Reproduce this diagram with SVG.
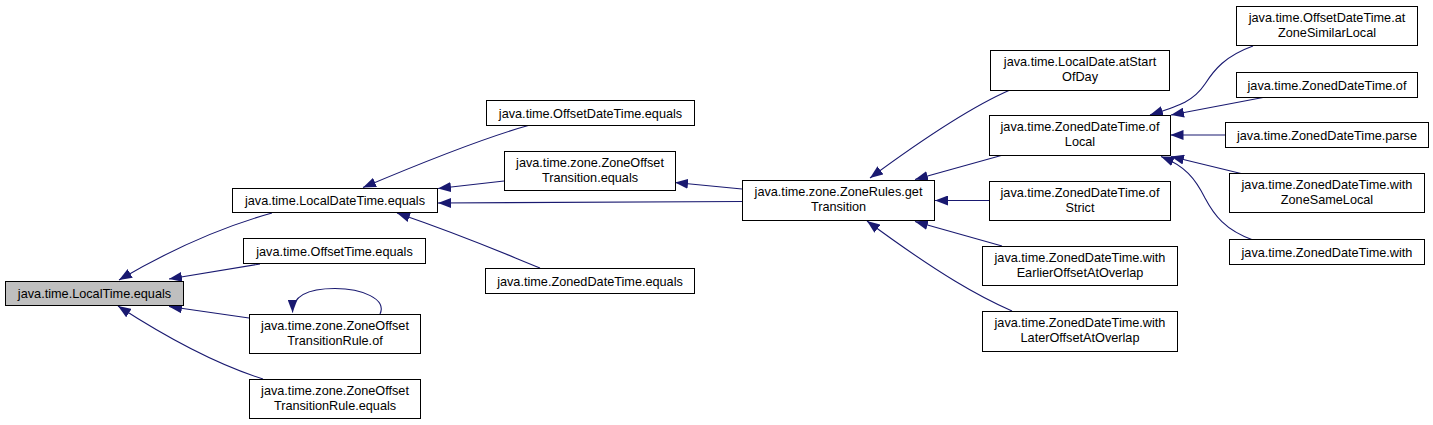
<svg xmlns="http://www.w3.org/2000/svg" width="1433" height="425" viewBox="0 0 1433 425">
<defs>
<style>
.n rect{fill:#ffffff;stroke:#000000;stroke-width:1}
.n.hl rect{fill:#bfbfbf}
.n text{font-family:"Liberation Sans",Arial,sans-serif;font-size:12.7px;fill:#000000;text-anchor:middle}
.e path{fill:none;stroke:#191970;stroke-width:1.1;marker-end:url(#ah)}
</style>
<marker id="ah" markerUnits="userSpaceOnUse" markerWidth="13" markerHeight="10" viewBox="0 0 13 10" refX="13" refY="5" orient="auto">
<path d="M0,0 L13,5 L0,10 z" fill="#191970"/>
</marker>
</defs>
<rect width="1433" height="425" fill="#ffffff"/>
<g id="edges" class="e">
<path d="M272,213 C225,226 170,250 119,280"/>
<path d="M260,264 L169,279"/>
<path d="M249,318 L169,306.5"/>
<path d="M263,379 C225,367 175,343 118,306"/>
<path d="M380,314 C387,299 362,288.5 335,288.5 C312,288.5 292.5,294 292.5,312.5"/>
<path d="M530,125 C490,136 440,155 363,187.5"/>
<path d="M504,181 L438,188.5"/>
<path d="M742,201.5 C650,201 550,203 438,203"/>
<path d="M540,268 C505,254 470,238 397,213"/>
<path d="M742,189 L675,182.5"/>
<path d="M1010,90 C980,103 935,130 870,178"/>
<path d="M1003,155 L915,179.5"/>
<path d="M989,200.5 L935,200.5"/>
<path d="M1002,246 L915,221.5"/>
<path d="M1012,311 C980,297 940,275 867,221"/>
<path d="M1253,46 C1225,56 1214,70 1205,84 C1193,102 1178,106 1150,115"/>
<path d="M1263,97.5 L1171,115"/>
<path d="M1225,135 L1170.5,135"/>
<path d="M1241,173.5 L1171,156.5"/>
<path d="M1253,240 C1225,230 1214,215 1205,198 C1195,178 1185,166 1161,156.5"/>
</g>
<g id="n0" class="n hl"><rect x="5.5" y="281.5" width="178" height="24"/><text x="94.5" y="298">java.time.LocalTime.equals</text></g>
<g id="n1" class="n"><rect x="232.5" y="188.5" width="205" height="24"/><text x="335" y="205">java.time.LocalDateTime.equals</text></g>
<g id="n2" class="n"><rect x="243.5" y="238.5" width="182" height="25"/><text x="334.5" y="255.5">java.time.OffsetTime.equals</text></g>
<g id="n3" class="n"><rect x="249.5" y="314.5" width="171" height="39"/><text x="335" y="330">java.time.zone.ZoneOffset</text><text x="335" y="345">TransitionRule.of</text></g>
<g id="n4" class="n"><rect x="249.5" y="379.5" width="171" height="39"/><text x="335" y="395">java.time.zone.ZoneOffset</text><text x="335" y="410">TransitionRule.equals</text></g>
<g id="n5" class="n"><rect x="486.5" y="100.5" width="208" height="25"/><text x="590.5" y="117.5">java.time.OffsetDateTime.equals</text></g>
<g id="n6" class="n"><rect x="504.5" y="151.5" width="171" height="39"/><text x="590" y="167">java.time.zone.ZoneOffset</text><text x="590" y="182">Transition.equals</text></g>
<g id="n7" class="n"><rect x="485.5" y="268.5" width="209" height="25"/><text x="590" y="285.5">java.time.ZonedDateTime.equals</text></g>
<g id="n8" class="n"><rect x="742.5" y="180.5" width="192" height="40"/><text x="838.5" y="196">java.time.zone.ZoneRules.get</text><text x="838.5" y="211">Transition</text></g>
<g id="n9" class="n"><rect x="990.5" y="50.5" width="179" height="40"/><text x="1080" y="66">java.time.LocalDate.atStart</text><text x="1080" y="81">OfDay</text></g>
<g id="n10" class="n"><rect x="989.5" y="115.5" width="181" height="40"/><text x="1080" y="131">java.time.ZonedDateTime.of</text><text x="1080" y="146">Local</text></g>
<g id="n11" class="n"><rect x="989.5" y="181.5" width="181" height="39"/><text x="1080" y="197">java.time.ZonedDateTime.of</text><text x="1080" y="212">Strict</text></g>
<g id="n12" class="n"><rect x="982.5" y="246.5" width="195" height="39"/><text x="1080" y="262">java.time.ZonedDateTime.with</text><text x="1080" y="277">EarlierOffsetAtOverlap</text></g>
<g id="n13" class="n"><rect x="982.5" y="311.5" width="195" height="40"/><text x="1080" y="327">java.time.ZonedDateTime.with</text><text x="1080" y="342">LaterOffsetAtOverlap</text></g>
<g id="n14" class="n"><rect x="1236.5" y="6.5" width="181" height="39"/><text x="1327" y="22">java.time.OffsetDateTime.at</text><text x="1327" y="37">ZoneSimilarLocal</text></g>
<g id="n15" class="n"><rect x="1236.5" y="72.5" width="181" height="25"/><text x="1327" y="89.5">java.time.ZonedDateTime.of</text></g>
<g id="n16" class="n"><rect x="1225.5" y="122.5" width="203" height="25"/><text x="1327" y="139.5">java.time.ZonedDateTime.parse</text></g>
<g id="n17" class="n"><rect x="1229.5" y="173.5" width="195" height="39"/><text x="1327" y="189">java.time.ZonedDateTime.with</text><text x="1327" y="204">ZoneSameLocal</text></g>
<g id="n18" class="n"><rect x="1229.5" y="239.5" width="195" height="25"/><text x="1327" y="256.5">java.time.ZonedDateTime.with</text></g>
</svg>
